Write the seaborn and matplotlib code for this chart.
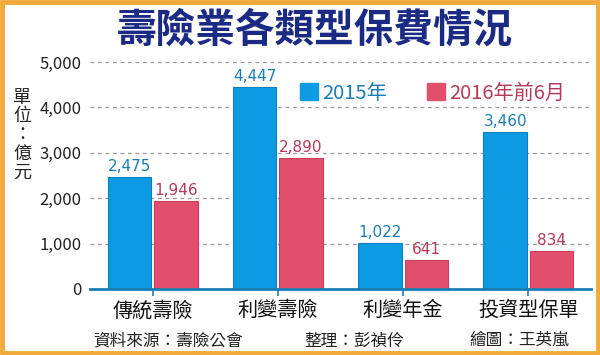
import matplotlib
matplotlib.use("Agg")
import matplotlib.pyplot as plt
import seaborn as sns
import pandas as pd
from matplotlib.patches import Rectangle, Patch

categories = ["傳統壽險", "利變壽險", "利變年金", "投資型保單"]
series_names = ["2015年", "2016年前6月"]
values_2015 = [2475, 4447, 1022, 3460]
values_2016h1 = [1946, 2890, 641, 834]
yticks = [0, 1000, 2000, 3000, 4000, 5000]

BLUE = "#0c9be2"
RED = "#e24f6c"
BLUE_TXT = "#1b7db6"
RED_TXT = "#b53a58"
NAVY = "#1b2a83"
ORANGE = "#f1a93a"

df = pd.DataFrame({
    "類別": categories * 2,
    "系列": [series_names[0]] * 4 + [series_names[1]] * 4,
    "保費": values_2015 + values_2016h1,
})

sns.set_theme(style="white")
plt.rcParams["font.family"] = ["Noto Sans CJK TC", "DejaVu Sans"]

fig = plt.figure(figsize=(6, 3.55), dpi=100)
ax = fig.add_axes([0.15, 0.186, 0.835, 0.639])

sns.barplot(data=df, x="類別", y="保費", hue="系列", order=categories,
            hue_order=series_names, palette=[BLUE, RED], width=0.74, gap=0.06,
            ax=ax, legend=False, errorbar=None, saturation=1)

for i, p in enumerate(ax.patches):
    p.set_edgecolor("#0a7fc0" if i < 4 else "#c83d5a")
    p.set_linewidth(0.8)

for cont, col in zip(ax.containers, [BLUE_TXT, RED_TXT]):
    labels = [f"{int(v):,}" for v in cont.datavalues]
    ax.bar_label(cont, labels=labels, padding=2, color=col, fontsize=11,
                 family=["Liberation Sans Narrow", "DejaVu Sans Condensed", "DejaVu Sans"])

ax.set_ylim(0, 5000)
ax.set_xlim(-0.5, 3.5)
ax.set_yticks(yticks)
ax.set_yticklabels([f"{v:,}" for v in yticks], fontsize=12, color="#222222")
for v in yticks[1:]:
    ax.axhline(v, color="#999999", lw=0.9, ls=(0, (3, 3)), zorder=0)

ax.set_xlabel("")
ax.set_ylabel("")
ax.set_xticks(range(len(categories)))
ax.set_xticklabels(categories, fontsize=14.5, color="#111111")
for s in ["top", "right", "left"]:
    ax.spines[s].set_visible(False)
ax.spines["bottom"].set_color(BLUE_TXT)
ax.spines["bottom"].set_linewidth(2)
ax.tick_params(axis="x", which="both", bottom=True, length=5, width=1.2,
               color=BLUE_TXT, pad=3, direction="out")
ax.tick_params(axis="y", length=0, pad=6)

handles = [Patch(facecolor=BLUE, edgecolor=BLUE), Patch(facecolor=RED, edgecolor=RED)]
leg = ax.legend(handles, series_names, loc="upper right", bbox_to_anchor=(0.985, 0.99),
                ncol=2, frameon=False, fontsize=14.5, handlelength=0.9, handleheight=0.9,
                handletextpad=0.2, columnspacing=2.0)
for t, c in zip(leg.get_texts(), [BLUE_TXT, RED_TXT]):
    t.set_color(c)

fig.text(0.525, 0.915, "壽險業各類型保費情況", ha="center", va="center",
         fontsize=28.5, fontweight="bold", color=NAVY)
fig.text(0.037, 0.62, "單\n位\n：\n億\n元", ha="center", va="center",
         fontsize=13, color="#222222", linespacing=1.05)

fig.text(0.155, 0.04, "資料來源：壽險公會", fontsize=12, color="#222222", va="center")
fig.text(0.508, 0.04, "整理：彭禎伶", fontsize=12, color="#222222", va="center")
fig.text(0.783, 0.04, "繪圖：王英嵐", fontsize=12, color="#222222", va="center")

fig.patches.append(Rectangle((0.004, 0.006), 0.992, 0.988, transform=fig.transFigure,
                             fill=False, edgecolor=ORANGE, linewidth=3.5))

fig.savefig("out.png", dpi=100)
